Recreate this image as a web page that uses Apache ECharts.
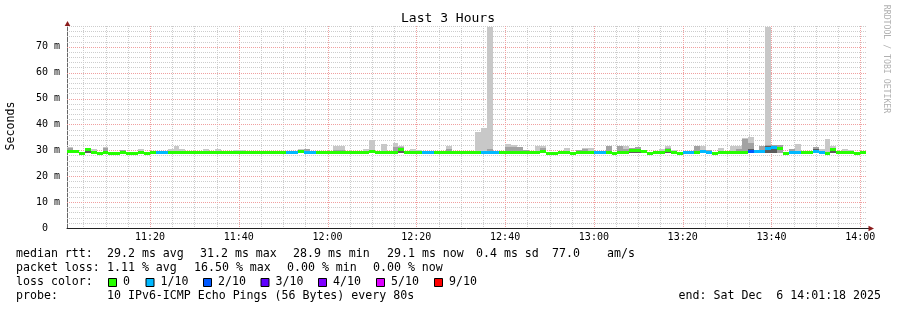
<!DOCTYPE html>
<html><head><meta charset="utf-8">
<script src="https://cdn.jsdelivr.net/npm/echarts@6/dist/echarts.min.js"></script>
<style>html,body{margin:0;padding:0;background:#fff}#c{width:897px;height:310px}</style>
</head><body><div id="c"></div>
<script>
// x in minutes since 11:00:00; chart spans 11:01:18 .. 14:01:18, one step = 80 s
const START = 1.3;
const END = 181.3;
const STEP = 80 / 60;
const YMAX = 78;

const xTickValues = [20, 40, 60, 80, 100, 120, 140, 160, 180];
const xTickLabels = ['11:20', '11:40', '12:00', '12:20', '12:40', '13:00', '13:20', '13:40', '14:00'];
const xMinorValues = [5, 10, 15, 25, 30, 35, 45, 50, 55, 65, 70, 75, 85, 90, 95, 105, 110, 115, 125, 130, 135, 145, 150, 155, 165, 170, 175];
const yTickValues = [0, 10, 20, 30, 40, 50, 60, 70];
const yTickLabels = ['0  ', '10 m', '20 m', '30 m', '40 m', '50 m', '60 m', '70 m'];
const yMajorValues = [10, 20, 30, 40, 50, 60, 70];
const yMinorValues = [2, 4, 6, 8, 12, 14, 16, 18, 22, 24, 26, 28, 32, 34, 36, 38, 42, 44, 46, 48, 52, 54, 56, 58, 62, 64, 66, 68, 72, 74, 76, 78];

// median rtt per step (ms)
const median = [
29.5,29.4,28.9,30.3,29.2,28.9,29.2,28.9,28.9,29.2,
28.9,28.9,29.2,28.9,29.2,29.2,29.2,29.2,29.2,29.2,
29.2,29.0,29.2,29.2,29.2,29.2,29.2,29.2,29.2,29.2,
29.2,29.2,29.2,29.2,29.2,29.2,29.2,29.2,29.2,29.6,
29.2,29.2,29.2,29.2,29.2,29.2,29.2,29.2,29.0,29.2,
29.2,29.5,29.2,29.2,29.2,29.2,30.3,29.2,29.2,29.2,
29.2,29.2,29.2,29.2,29.2,29.2,29.2,29.2,29.2,29.2,
29.2,29.2,29.2,29.2,29.2,29.2,29.2,29.2,29.2,29.2,
29.4,28.9,28.9,29.2,29.2,28.9,29.2,29.2,29.2,29.2,
29.2,29.2,28.9,29.2,29.2,29.8,30.1,29.6,28.9,29.2,
29.2,30.0,29.2,28.9,29.2,29.2,29.2,29.4,29.3,28.9,
29.2,29.2,29.2,29.2,29.2,29.6,29.4,29.5,30.7,31.2,
30.6,28.9,29.2,29.2,29.2,29.2,29.4,29.2,28.9,30.3,
29.2,29.2,29.2,28.9,29.1
];
// loss colour class per step: 0 = 0, 1 = 1/10, 2 = 2/10 ...
const lossClass = [
0,0,0,0,0,0,0,0,0,0,
0,0,0,0,0,1,1,0,0,0,
0,0,0,0,0,0,0,0,0,0,
0,0,0,0,0,0,0,1,1,0,
1,1,0,0,0,0,0,0,0,0,
0,0,0,0,0,0,0,0,0,0,
1,1,0,0,0,0,0,0,0,0,
1,1,1,0,0,0,0,0,0,0,
0,0,0,0,0,0,0,0,0,1,
1,0,0,0,0,0,0,0,0,0,
0,0,0,0,1,1,0,1,1,0,
0,0,0,0,0,2,1,1,1,1,
0,0,1,1,0,0,1,1,0,0,
0,0,0,0,0
];
// highest ping per step (light smoke top, ms); 0 = no visible smoke
const smokeMax = [
31.4,29.8,0,30.9,30.5,0,31.2,0,0,30.3,
0,0,30.5,0,0,0,0,30.6,31.8,30.6,
0,0,0,30.5,0,30.5,29.9,0,30.0,30.0,
0,0,0,0,0,0,0,0,0,30.4,
30.5,0,0,0,0,31.6,31.6,0,0,0,
30.5,33.8,29.8,32.3,0,33.0,31.8,0,30.5,30.0,
0,0,0,0,31.8,0,0,0,29.9,37.2,
38.8,77.6,29.9,0,32.3,32.0,31.4,30.0,0,31.8,
31.8,0,0,0,31.0,0,30.1,30.8,31.0,0,
0,31.7,0,31.5,31.5,31.0,31.4,0,0,0,
30.4,31.8,30.3,0,0,0,31.6,31.8,30.3,0,
31.0,0,31.6,31.8,34.8,35.3,0,31.6,77.6,32.0,
32.2,0,30.5,32.3,0,0,31.4,30.5,34.3,31.6,
0,30.5,30.0,0,0
];
// middle smoke top (ms); 0 = none
const smokeMid = [
30.8,0,0,30.9,0,0,30.8,0,0,30.3,
0,0,0,0,0,0,0,0,0,0,
0,0,0,0,0,0,29.9,0,0,0,
0,0,0,0,0,0,0,0,0,0,
30.5,0,0,0,0,30.2,30.2,0,0,0,
0,0,29.8,0,0,31.4,31.3,0,0,0,
0,0,0,0,30.5,0,0,0,0,0,
0,30.5,0,0,31.4,31.4,31.4,30.0,0,0,
30.7,0,0,0,0,0,30.1,30.4,0,0,
0,31.7,0,31.5,30.5,31.0,31.4,0,0,0,
0,31.0,0,0,0,0,31.6,0,30.0,0,
0,0,0,30.5,34.3,33.0,0,31.6,32.0,32.0,
32.2,0,30.5,0,0,0,31.4,0,0,31.0,
0,0,0,0,0
];
// dark core of the smoke (ms); 0 = none
const smokeCore = [
0,0,0,30.9,0,0,0,0,0,29.9,
0,0,0,0,0,0,0,0,0,0,
0,0,0,0,0,0,0,0,0,0,
0,0,0,0,0,0,0,0,0,0,
0,0,0,0,0,0,0,0,0,0,
0,0,0,0,0,0,31.0,0,0,0,
0,0,0,0,0,0,0,0,0,0,
0,0,0,0,0,0,0,0,0,0,
30.2,0,0,0,0,0,0,0,0,0,
0,0,0,0,0,30.6,30.6,0,0,0,
0,30.5,0,0,0,0,0,0,0,0,
0,0,0,0,0,30.6,0,0,31.6,31.8,
0,0,0,0,0,0,30.6,0,0,30.9,
0,0,0,0,0
];
// lowest ping per step (ms)
const smokeMin = [
28.9,28.9,28.8,28.9,28.9,28.8,28.9,28.8,28.8,28.9,
28.8,28.8,28.9,28.8,28.9,28.9,28.9,28.9,28.9,28.9,
28.9,28.8,28.9,28.9,28.9,28.9,28.9,28.9,28.9,28.9,
28.9,28.9,28.9,28.9,28.9,28.9,28.9,28.9,28.9,28.9,
28.9,28.9,28.9,28.9,28.9,28.9,28.9,28.9,28.8,28.9,
28.9,28.9,28.9,28.9,28.9,28.9,28.9,28.9,28.9,28.9,
28.9,28.9,28.9,28.9,28.9,28.9,28.9,28.9,28.9,28.9,
28.9,28.9,28.9,28.9,28.9,28.9,28.9,28.9,28.9,28.9,
28.9,28.8,28.8,28.9,28.9,28.8,28.9,28.9,28.9,28.9,
28.9,28.9,28.8,28.9,28.9,28.9,28.9,28.9,28.8,28.9,
28.9,28.9,28.9,28.8,28.9,28.9,28.9,28.9,28.9,28.8,
28.9,28.9,28.9,28.9,28.9,28.9,28.9,28.9,28.9,29.0,
28.9,28.8,28.9,28.9,28.9,28.9,28.9,28.9,28.8,28.9,
28.9,28.9,28.9,28.8,28.9
];

const lossColors = ['#26ff00', '#00b8ff', '#0059ff', '#5e00ff', '#7e00ff', '#dd00ff', '#ff0000'];
const lossNames = ['0', '1/10', '2/10', '3/10', '4/10', '5/10', '9/10'];

const LIGHT = '#c8c8c8', MID = '#a2a2a2', CORE = '#5c5c5c';
const GRID_MINOR = '#cdcdcd', GRID_MAJOR = '#f0a0a0';
const MONO = '"DejaVu Sans Mono", monospace';

const data = median.map((m, i) => [START + i * STEP, m, lossClass[i], smokeMax[i], smokeMid[i], smokeCore[i], smokeMin[i]]);
const vLines = xMinorValues.map(v => [v, 0]).concat(xTickValues.map(v => [v, 1]));
const hLines = yMinorValues.map(v => [v, 0]).concat(yMajorValues.map(v => [v, 1]));

const chart = echarts.init(document.getElementById('c'), null, { renderer: 'canvas' });

const graphics = [
  { type: 'text', x: 448, y: 19, style: { text: 'Last 3 Hours', font: '13px ' + MONO, fill: '#000', align: 'center', verticalAlign: 'middle' } },
  { type: 'text', x: 11, y: 126, rotation: Math.PI / 2, style: { text: 'Seconds', font: '11.6px ' + MONO, fill: '#000', align: 'center', verticalAlign: 'middle' } },
  { type: 'text', x: 886, y: 59, rotation: -Math.PI / 2, style: { text: 'RRDTOOL / TOBI OETIKER', font: '8.2px ' + MONO, fill: '#b0b0b0', align: 'center', verticalAlign: 'middle' } },
  { type: 'line', shape: { x1: 67.5, y1: 22, x2: 67.5, y2: 27 }, style: { stroke: '#666', lineWidth: 1 } },
  { type: 'polygon', shape: { points: [[67.5, 21], [64.7, 26], [70.3, 26]] }, style: { fill: '#8b1c1c' }, z: 100 },
  { type: 'line', shape: { x1: 866, y1: 228.5, x2: 869, y2: 228.5 }, style: { stroke: '#222', lineWidth: 1 } },
  { type: 'polygon', shape: { points: [[874, 228.5], [868.5, 225.7], [868.5, 231.3]] }, style: { fill: '#8b1c1c' }, z: 100 }
];
const F = '11.6px ' + MONO;
function txt(x, y, s) { graphics.push({ type: 'text', x: x, y: y, style: { text: s, font: F, fill: '#000', align: 'left', verticalAlign: 'middle' } }); }
txt(16, 254, 'median rtt:');
txt(107, 254, '29.2 ms avg');
txt(200, 254, '31.2 ms max');
txt(293, 254, '28.9 ms min');
txt(387, 254, '29.1 ms now');
txt(476, 254, '0.4 ms sd');
txt(552, 254, '77.0');
txt(607, 254, 'am/s');
txt(16, 268, 'packet loss:');
txt(107, 268, '1.11 % avg');
txt(194, 268, '16.50 % max');
txt(287, 268, '0.00 % min');
txt(373, 268, '0.00 % now');
txt(16, 282, 'loss color:');
const boxX = [108, 145.5, 203, 260.5, 318, 376, 434];
lossNames.forEach((n, k) => {
  graphics.push({ type: 'rect', shape: { x: boxX[k] + 0.5, y: 278.5, width: 8, height: 8 }, style: { fill: lossColors[k], stroke: '#000', lineWidth: 1 } });
  txt(boxX[k] + 15, 282, n);
});
txt(16, 296, 'probe:');
txt(107, 296, '10 IPv6-ICMP Echo Pings (56 Bytes) every 80s');
graphics.push({ type: 'text', x: 881, y: 296, style: { text: 'end: Sat Dec  6 14:01:18 2025', font: F, fill: '#000', align: 'right', verticalAlign: 'middle' } });

chart.setOption({
  animation: false,
  backgroundColor: '#fff',
  grid: { left: 67, right: 31, top: 26, bottom: 82, containLabel: false },
  xAxis: {
    type: 'value', min: START, max: END,
    axisLine: { show: true, onZero: false, lineStyle: { color: '#222', width: 1 } },
    axisTick: { show: false },
    splitLine: { show: false },
    axisLabel: {
      customValues: xTickValues,
      formatter: v => { const k = xTickValues.indexOf(Math.round(v)); return k >= 0 ? xTickLabels[k] : ''; },
      fontFamily: MONO, fontSize: 10, color: '#000', margin: 4
    }
  },
  yAxis: {
    type: 'value', min: 0, max: YMAX,
    axisLine: { show: true, onZero: false, lineStyle: { color: '#666', width: 1 } },
    axisTick: { show: false },
    splitLine: { show: false },
    axisLabel: {
      customValues: yTickValues,
      formatter: v => { const k = yTickValues.indexOf(Math.round(v)); return k >= 0 ? yTickLabels[k] : ''; },
      fontFamily: MONO, fontSize: 10, color: '#000', margin: 7
    }
  },
  graphic: graphics,
  series: [
    {
      type: 'custom', z: 1, silent: true, data: vLines, encode: { x: 0 },
      renderItem: function (params, api) {
        const v = api.value(0), major = api.value(1);
        const pb = api.coord([v, 0]), pt = api.coord([v, YMAX]);
        const x = Math.round(pb[0]) + 0.5;
        return { type: 'line', z2: major ? 2 : 1, shape: { x1: x, y1: Math.round(pt[1]), x2: x, y2: Math.round(pb[1]) }, style: { stroke: major ? GRID_MAJOR : GRID_MINOR, lineWidth: 1, lineDash: [1, 1] } };
      }
    },
    {
      type: 'custom', z: 1, silent: true, data: hLines, encode: { y: 0 },
      renderItem: function (params, api) {
        const v = api.value(0), major = api.value(1);
        const pl = api.coord([START, v]), pr = api.coord([END, v]);
        const y = Math.round(pl[1]) + 0.5;
        return { type: 'line', z2: major ? 2 : 1, shape: { x1: Math.round(pl[0]), y1: y, x2: Math.round(pr[0]), y2: y }, style: { stroke: major ? GRID_MAJOR : GRID_MINOR, lineWidth: 1, lineDash: [1, 1] } };
      }
    },
    {
      type: 'custom', z: 3, silent: true,
      data: data,
      encode: { x: 0, y: 1 },
      renderItem: function (params, api) {
        const x0 = api.value(0), x1 = x0 + STEP;
        const med = api.value(1), loss = api.value(2), hi = api.value(3), mid = api.value(4), core = api.value(5), lo = api.value(6);
        const px0 = Math.round(api.coord([x0, 0])[0]);
        const px1 = Math.round(api.coord([x1, 0])[0]);
        const ch = [];
        function band(a, b, color) {
          const ya = Math.round(api.coord([x0, a])[1]);
          const yb = Math.round(api.coord([x0, b])[1]);
          ch.push({ type: 'rect', shape: { x: px0, y: yb, width: px1 - px0, height: Math.max(ya - yb, 1) }, style: { fill: color } });
        }
        if (hi > 0) band(lo, hi, LIGHT);
        if (mid > 0) band(lo, mid, MID);
        if (core > 0) band(lo, core, CORE);
        const ym = api.coord([x0, med])[1];
        ch.push({ type: 'rect', shape: { x: px0, y: Math.round(ym - 1.5), width: px1 - px0, height: 3 }, style: { fill: lossColors[loss] } });
        return { type: 'group', children: ch };
      }
    }
  ]
});
</script>
</body></html>
